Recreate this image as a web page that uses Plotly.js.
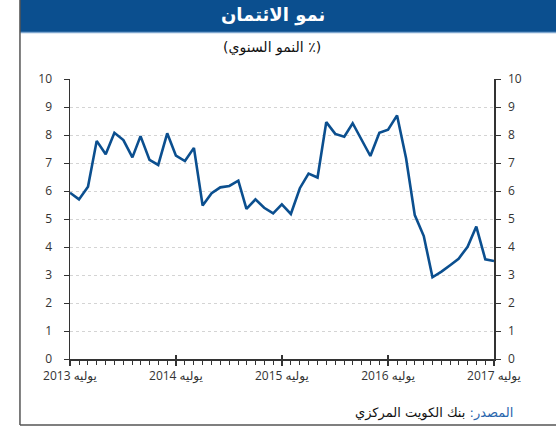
<!DOCTYPE html>
<html>
<head>
<meta charset="utf-8">
<script src="https://cdn.plot.ly/plotly-3.0.1.min.js"></script>
<style>
  html, body { margin: 0; padding: 0; background: #fff; }
  #chart { width: 556px; height: 428px; }
</style>
</head>
<body>
<div id="chart"></div>
<script>
// Months (July 2013 - July 2017), monthly
const months = [
  "2013-07","2013-08","2013-09","2013-10","2013-11","2013-12",
  "2014-01","2014-02","2014-03","2014-04","2014-05","2014-06",
  "2014-07","2014-08","2014-09","2014-10","2014-11","2014-12",
  "2015-01","2015-02","2015-03","2015-04","2015-05","2015-06",
  "2015-07","2015-08","2015-09","2015-10","2015-11","2015-12",
  "2016-01","2016-02","2016-03","2016-04","2016-05","2016-06",
  "2016-07","2016-08","2016-09","2016-10","2016-11","2016-12",
  "2017-01","2017-02","2017-03","2017-04","2017-05","2017-06",
  "2017-07"
];
// Credit growth, % y/y
const creditGrowth = [
  5.94, 5.70, 6.15, 7.79, 7.31, 8.08,
  7.82, 7.20, 7.96, 7.11, 6.93, 8.06,
  7.26, 7.07, 7.54, 5.48, 5.92, 6.13,
  6.18, 6.37, 5.36, 5.70, 5.40, 5.20,
  5.52, 5.18, 6.10, 6.62, 6.48, 8.46,
  8.04, 7.94, 8.42, 7.82, 7.25, 8.08,
  8.19, 8.70, 7.17, 5.14, 4.39, 2.92,
  3.12, 3.36, 3.58, 4.01, 4.73, 3.56,
  3.50
];
const tickVals = ["2013-07-01","2014-07-01","2015-07-01","2016-07-01","2017-07-01"];
const tickText = ["2013 يوليه","2014 يوليه","2015 يوليه","2016 يوليه","2017 يوليه"];
const yTicks = [0,1,2,3,4,5,6,7,8,9,10];

const titleText = "نمو الائتمان";
const subtitleText = "(النمو السنوي ٪)";
const sourceLabel = "المصدر:";
const sourceText = "بنك الكويت المركزي";

const lineColor = "#0b4f8f";
const axisColor = "#333333";
const tickFont = {family: "Open Sans, DejaVu Sans, sans-serif", size: 12, color: "#333333"};

const traces = [
  {x: months, y: creditGrowth, type: "scatter", mode: "lines",
   line: {color: lineColor, width: 2.6}, hoverinfo: "skip", showlegend: false},
  {x: months, y: creditGrowth, type: "scatter", mode: "lines", yaxis: "y2",
   line: {color: lineColor, width: 0}, opacity: 0, hoverinfo: "skip", showlegend: false},
  {x: months, y: creditGrowth, type: "scatter", mode: "lines", xaxis: "x2",
   line: {color: lineColor, width: 0}, opacity: 0, hoverinfo: "skip", showlegend: false}
];

const xRange = ["2013-07-01", "2017-07-01"];

const layout = {
  width: 556, height: 428,
  margin: {l: 70, r: 62, t: 79, b: 69},
  paper_bgcolor: "#ffffff", plot_bgcolor: "#ffffff",
  showlegend: false,
  xaxis: {
    type: "date", range: xRange,
    tickmode: "array", tickvals: tickVals, ticktext: tickText,
    ticks: "outside", ticklen: 5, tickwidth: 1.6, tickcolor: axisColor,
    minor: {dtick: "M1", tick0: "2013-07-01", ticks: "outside", ticklen: 4, tickwidth: 1, tickcolor: axisColor, showgrid: false},
    showline: true, linecolor: axisColor, linewidth: 1.5,
    showgrid: false, zeroline: false,
    tickfont: tickFont, tickangle: 0
  },
  xaxis2: {
    type: "date", range: xRange, overlaying: "x", anchor: "y",
    tickmode: "array", tickvals: tickVals, ticktext: tickText,
    ticks: "inside", ticklen: 4, tickwidth: 1.6, tickcolor: axisColor,
    showticklabels: false, showline: false, showgrid: false, zeroline: false
  },
  yaxis: {
    range: [0, 10], tickmode: "array", tickvals: yTicks,
    ticks: "outside", ticklen: 5, tickwidth: 1, tickcolor: axisColor,
    showline: true, linecolor: axisColor, linewidth: 1.5,
    showgrid: true, gridcolor: "#d4d4d4", gridwidth: 1, griddash: "dot",
    zeroline: false, tickfont: tickFont, ticklabelstandoff: 9
  },
  yaxis2: {
    range: [0, 10], overlaying: "y", side: "right", anchor: "x",
    tickmode: "array", tickvals: yTicks,
    ticks: "outside", ticklen: 5, tickwidth: 1, tickcolor: axisColor,
    showline: true, linecolor: axisColor, linewidth: 1.5,
    showgrid: false, zeroline: false, tickfont: tickFont, ticklabelstandoff: 5
  },
  shapes: [
    {type: "rect", xref: "paper", yref: "paper", x0: -0.118, x1: 1.15, y0: 1.168, y1: 1.29,
     fillcolor: "#0b4f8f", line: {width: 0}, layer: "below"},
    {type: "line", xref: "paper", yref: "paper", x0: -0.118, x1: 1.15, y0: 1.166, y1: 1.166,
     line: {color: "#7ea6cf", width: 1.5}},
    {type: "line", xref: "paper", yref: "paper", x0: -0.118, x1: -0.118, y0: -0.236, y1: 1.29,
     line: {color: "#555555", width: 1.5}},
    {type: "line", xref: "paper", yref: "paper", x0: -0.118, x1: 1.15, y0: -0.236, y1: -0.236,
     line: {color: "#555555", width: 1.5}}
  ],
  annotations: [
    {text: "<b>" + titleText + "</b>", xref: "paper", yref: "paper", x: 0.479, y: 1.2286,
     xanchor: "center", yanchor: "middle", showarrow: false,
     font: {family: "DejaVu Sans, sans-serif", size: 18, color: "#ffffff"}},
    {text: subtitleText, xref: "paper", yref: "paper", x: 0.477, y: 1.114,
     xanchor: "center", yanchor: "middle", showarrow: false,
     font: {family: "DejaVu Sans, sans-serif", size: 14, color: "#111111"}},
    {text: "<span style='color:#2a66ad'>" + sourceLabel + "</span> " + sourceText,
     xref: "paper", yref: "paper", x: 1.0495, y: -0.193,
     xanchor: "right", yanchor: "middle", showarrow: false,
     font: {family: "DejaVu Sans, sans-serif", size: 13, color: "#111111"}}
  ]
};

Plotly.newPlot("chart", traces, layout, {displayModeBar: false, staticPlot: true});
</script>
</body>
</html>
